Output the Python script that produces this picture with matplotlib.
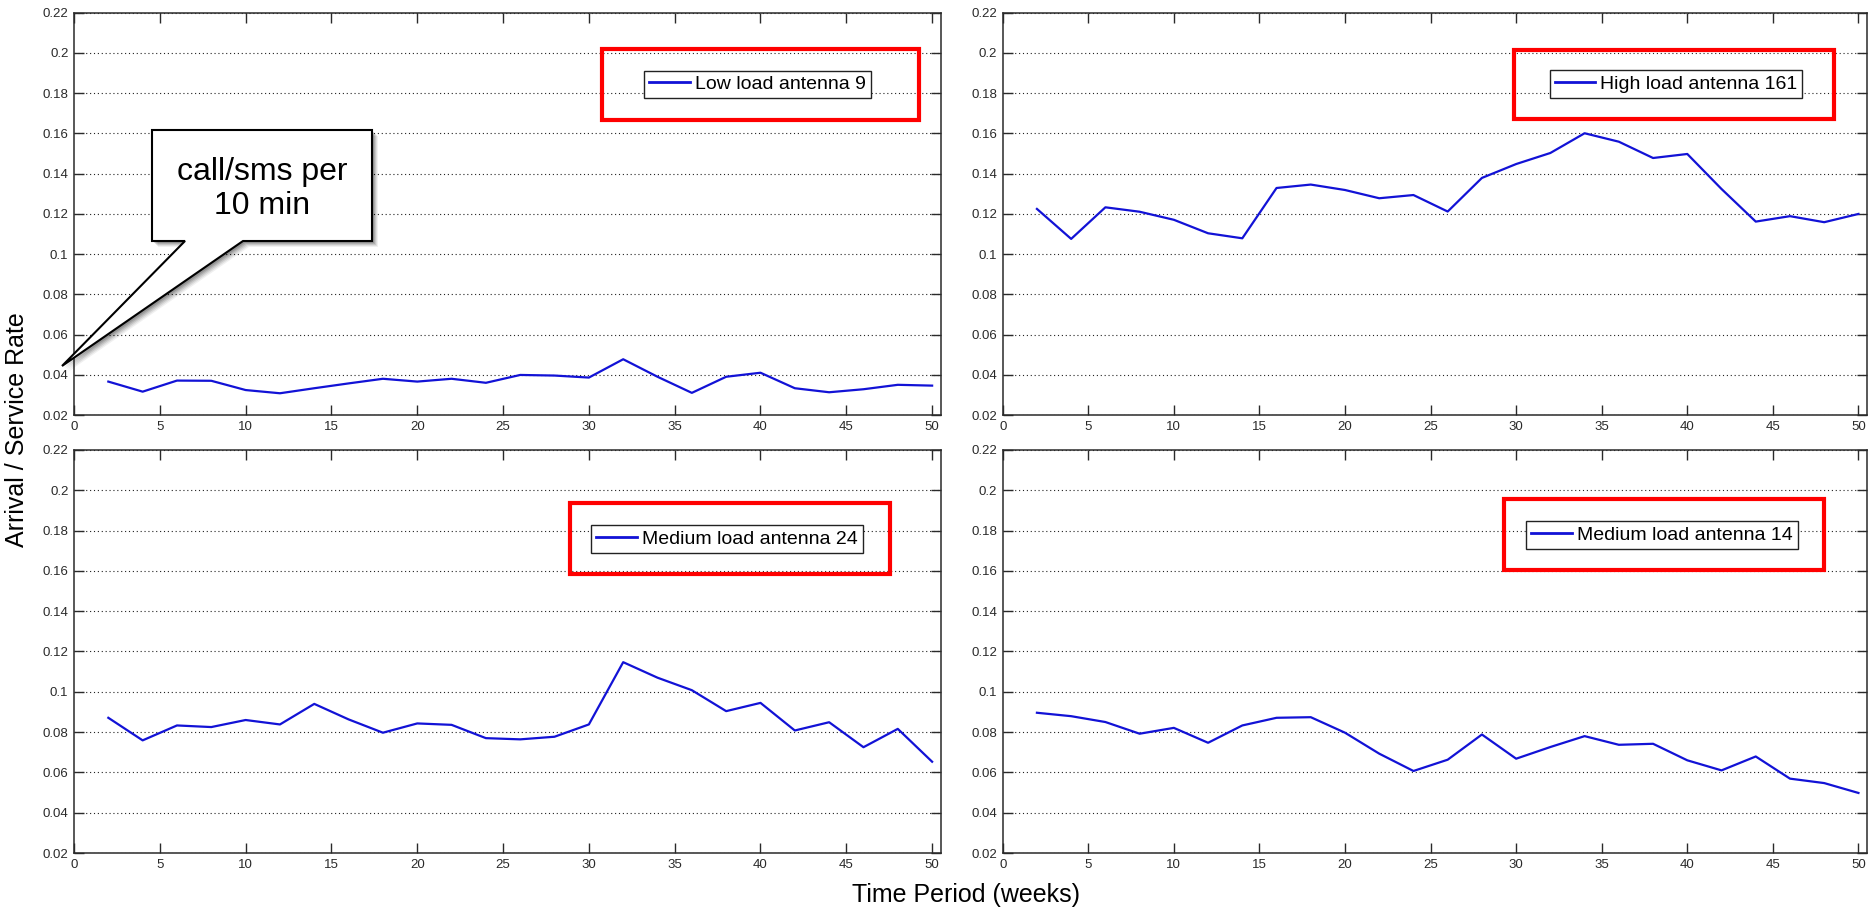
import matplotlib
matplotlib.use("Agg")
import matplotlib.pyplot as plt
from matplotlib.patches import Rectangle, Polygon

plt.rcParams['font.family'] = ['Liberation Sans', 'DejaVu Sans']

weeks = [2, 4, 6, 8, 10, 12, 14, 16, 18, 20, 22, 24, 26, 28, 30,
         32, 34, 36, 38, 40, 42, 44, 46, 48, 50]

low_9 = [0.0366, 0.0316, 0.0371, 0.0370, 0.0324, 0.0308, 0.0333, 0.0357, 0.0380,
         0.0366, 0.0380, 0.0360, 0.0399, 0.0396, 0.0386, 0.0477, 0.0390, 0.0310,
         0.0390, 0.0410, 0.0333, 0.0313, 0.0328, 0.0350, 0.0346]

high_161 = [0.1224, 0.1075, 0.1232, 0.1210, 0.1170, 0.1103, 0.1078, 0.1328, 0.1345,
            0.1318, 0.1277, 0.1293, 0.1211, 0.1378, 0.1447, 0.1502, 0.1600, 0.1558,
            0.1477, 0.1497, 0.1323, 0.1161, 0.1188, 0.1158, 0.1199]

medium_24 = [0.0871, 0.0759, 0.0833, 0.0825, 0.0860, 0.0838, 0.0940, 0.0863, 0.0797,
             0.0843, 0.0836, 0.0770, 0.0764, 0.0777, 0.0838, 0.1147, 0.1070, 0.1008,
             0.0904, 0.0945, 0.0808, 0.0849, 0.0725, 0.0816, 0.0653]

medium_14 = [0.0896, 0.0879, 0.0850, 0.0792, 0.0821, 0.0747, 0.0833, 0.0871, 0.0874,
             0.0797, 0.0693, 0.0607, 0.0663, 0.0788, 0.0668, 0.0726, 0.0780, 0.0737,
             0.0742, 0.0660, 0.0610, 0.0679, 0.0569, 0.0547, 0.0498]

labels = ["Low load antenna 9", "High load antenna 161",
          "Medium load antenna 24", "Medium load antenna 14"]

y_ticks = [0.02, 0.04, 0.06, 0.08, 0.10, 0.12, 0.14, 0.16, 0.18, 0.20, 0.22]
y_tick_labels = ["0.02", "0.04", "0.06", "0.08", "0.1", "0.12", "0.14",
                 "0.16", "0.18", "0.2", "0.22"]
x_ticks = [0, 5, 10, 15, 20, 25, 30, 35, 40, 45, 50]

W, H = 1872, 913
fig = plt.figure(figsize=(W / 100, H / 100), dpi=100)
fig.patch.set_facecolor('white')


def fx(x):
    return x / W


def fy(y):
    return 1 - y / H


# axes boxes in pixel coordinates (left, top, right, bottom)
boxes = [(74, 12.5, 940.7, 415), (1002.7, 12.5, 1867, 415),
         (74, 450, 940.7, 853), (1002.7, 450, 1867, 853)]
series = [low_9, high_161, medium_24, medium_14]
legend_centers = [(757.5, 84.5), (1676, 84), (727, 539), (1662, 535)]
red_boxes = [(602, 49, 919, 120), (1514, 50, 1834, 119),
             (570, 503, 890, 574), (1504, 499, 1824, 570)]

line_color = '#1212d6'
spine_color = '#2a2a2a'

for (l, t, r, b), data, lab, (cx, cy) in zip(boxes, series, labels, legend_centers):
    ax = fig.add_axes([fx(l), fy(b), (r - l) / W, (b - t) / H])
    ax.plot(weeks, data, color=line_color, lw=1.6, label=lab)
    ax.set_xlim(0, 50.5)
    ax.set_ylim(0.02, 0.22)
    ax.set_xticks(x_ticks)
    ax.set_xticklabels([str(v) for v in x_ticks])
    ax.set_yticks(y_ticks)
    ax.set_yticklabels(y_tick_labels)
    ax.tick_params(direction='in', length=7, width=1.0, top=True, right=True,
                   labelsize=9.5, colors=spine_color, pad=4)
    ax.yaxis.grid(True, linestyle=(0, (1, 2.5)), color='#222222', lw=0.8)
    ax.xaxis.grid(False)
    for sp in ax.spines.values():
        sp.set_color(spine_color)
        sp.set_linewidth(1.1)
    leg = ax.legend(loc='center', bbox_to_anchor=(fx(cx), fy(cy)),
                    bbox_transform=fig.transFigure, fontsize=14,
                    fancybox=False, framealpha=1, edgecolor='#222222',
                    borderpad=0.25, handlelength=2.1, handletextpad=0.25,
                    borderaxespad=0)
    leg.get_frame().set_linewidth(1.0)
    for line in leg.get_lines():
        line.set_linewidth(2.0)

# overlay for annotations (pixel coordinates)
ov = fig.add_axes([0, 0, 1, 1], facecolor='none', zorder=10)
ov.set_xlim(0, W)
ov.set_ylim(H, 0)
ov.axis('off')

for (x0, y0, x1, y1) in red_boxes:
    ov.add_patch(Rectangle((x0, y0), x1 - x0, y1 - y0, fill=False,
                           edgecolor='#ff0000', lw=3.0))

callout = [(152, 130), (372, 130), (372, 241), (243, 241), (62, 366),
           (185, 241), (152, 241)]
for k, a in [(6, 0.06), (5, 0.08), (4, 0.1), (3, 0.12), (2, 0.14)]:
    ov.add_patch(Polygon([(x + k, y + k) for x, y in callout], closed=True,
                         facecolor='#000000', edgecolor='none', alpha=a))
ov.add_patch(Polygon(callout, closed=True, facecolor='white',
                     edgecolor='black', lw=1.5))
ov.text(262, 189, "call/sms per\n10 min", ha='center', va='center',
        fontsize=23, linespacing=1.15, color='black')

fig.text(fx(17), fy(430), "Arrival / Service Rate", rotation=90,
         ha='center', va='center', fontsize=18)
fig.text(fx(966), fy(895), "Time Period (weeks)", ha='center', va='center',
         fontsize=18)

fig.savefig("out.png", dpi=100)
